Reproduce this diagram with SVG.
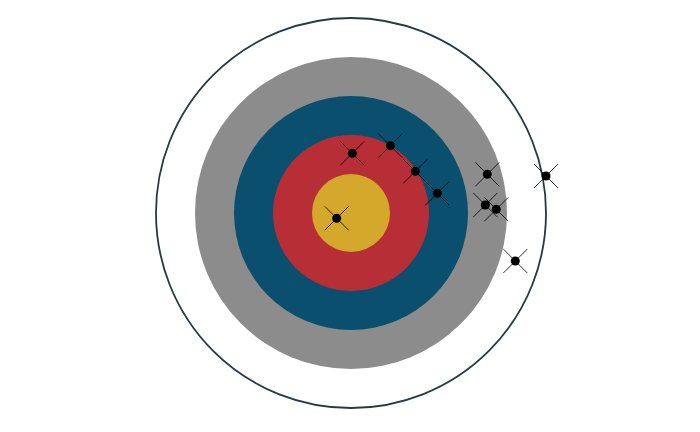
<svg xmlns="http://www.w3.org/2000/svg" width="700" height="432" viewBox="0 0 700 432">
<defs>
<g id="m"><line x1="-12" y1="-12" x2="12" y2="12" stroke="#000" stroke-width="0.8"/><line x1="-12" y1="12" x2="12" y2="-12" stroke="#000" stroke-width="0.8"/><circle r="4.5" fill="#000"/></g>
</defs>
<rect width="700" height="432" fill="#fff"/>
<g id="target">
<circle cx="351" cy="213" r="195" fill="#fff" stroke="#233a41" stroke-width="1.8"/>
<circle cx="351" cy="213" r="156" fill="#8c8c8c"/>
<circle cx="351" cy="213" r="117" fill="#0a4f6e"/>
<circle cx="351" cy="213" r="78" fill="#b82e37"/>
<circle cx="351" cy="213" r="39" fill="#d4a82a"/>
</g>
<g id="hits">
<use href="#m" x="352.3" y="153.3"/>
<use href="#m" x="390.3" y="145.7"/>
<use href="#m" x="415.3" y="171.3"/>
<use href="#m" x="437.3" y="193.3"/>
<use href="#m" x="487.3" y="174.3"/>
<use href="#m" x="485.3" y="205"/>
<use href="#m" x="496.3" y="209.3"/>
<use href="#m" x="546" y="176"/>
<use href="#m" x="515.3" y="261"/>
<use href="#m" x="336.7" y="218.3"/>
</g>
</svg>
